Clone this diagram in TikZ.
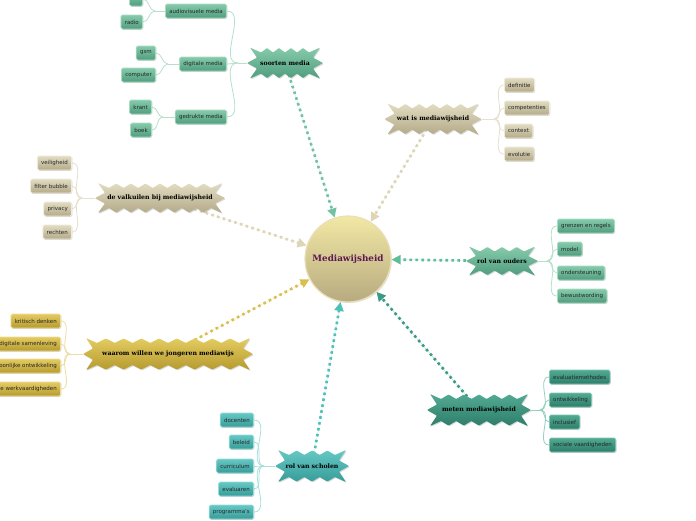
\documentclass[tikz,border=0pt]{standalone}
\usepackage{fontspec}
\setmainfont{DejaVu Sans}
\newfontfamily\burstfont{DejaVu Serif}
\usetikzlibrary{shadows,arrows.meta,backgrounds}
\definecolor{gT}{HTML}{86CBAB}\definecolor{gD}{HTML}{4F9D7E}\definecolor{gB}{HTML}{A9DCC4}
\definecolor{tT}{HTML}{E2DCC2}\definecolor{tD}{HTML}{B3AA88}\definecolor{tB}{HTML}{EFEBDC}
\definecolor{yT}{HTML}{E3CC62}\definecolor{yD}{HTML}{B69A2E}\definecolor{yB}{HTML}{EEDC98}
\definecolor{dT}{HTML}{52AA93}\definecolor{dD}{HTML}{2D7E6A}\definecolor{dB}{HTML}{80C6B3}
\definecolor{sT}{HTML}{66C8C4}\definecolor{sD}{HTML}{379C99}\definecolor{sB}{HTML}{98DEDB}
\definecolor{cT}{HTML}{F2E8A4}\definecolor{cD}{HTML}{B7AA80}\definecolor{cE}{HTML}{E9E0B9}
\definecolor{purp}{HTML}{5C1850}
\definecolor{gDot}{HTML}{72C2A2}\definecolor{tDot}{HTML}{DCD6B6}\definecolor{yDot}{HTML}{D8C050}
\definecolor{dDot}{HTML}{3A9A85}\definecolor{sDot}{HTML}{4EC0B8}\definecolor{oDot}{HTML}{5FBC98}
\definecolor{gL}{HTML}{B5E0CC}\definecolor{tL}{HTML}{E6E1CC}\definecolor{yL}{HTML}{EBDFA6}
\definecolor{dL}{HTML}{94CFC0}\definecolor{sL}{HTML}{A6E0DC}
% burst: name, cx, cy, half width, half height, bumps, fill style, text
\newcommand\mkburst[8]{%
  \begin{scope}[shift={(#2,#3)}]
  \pgfmathsetmacro\ba{#4}\pgfmathsetmacro\bb{#5}\pgfmathsetmacro\bs{(2*#4-28)/#6}
  \path[#7, burstfill] (-\ba,0) -- ({-\ba+10},{-0.35*\bb}) -- ({-\ba+3},{-\bb}) -- ({-\ba+14},{-\bb+5})
    \foreach \k in {1,...,#6} { -- ({-\ba+14+(\k-0.5)*\bs},{-\bb+0.5}) -- ({-\ba+14+\k*\bs},{-\bb+5}) }
    -- ({\ba-3},{-\bb}) -- ({\ba-10},{-0.35*\bb}) -- (\ba,0) -- ({\ba-10},{0.35*\bb}) -- ({\ba-3},{\bb}) -- ({\ba-14},{\bb-5})
    \foreach \k in {1,...,#6} { -- ({\ba-14-(\k-0.5)*\bs},{\bb-0.5}) -- ({\ba-14-\k*\bs},{\bb-5}) }
    -- ({-\ba+3},{\bb}) -- ({-\ba+10},{0.35*\bb}) -- cycle;
  \end{scope}
  \node[bursttext, minimum width=2*#4, minimum height=2*#5] (#1) at (#2,#3) {#8};
}
\begin{document}
\begin{tikzpicture}[x=1pt,y=-1pt,
  leaf/.style={rectangle, rounded corners=1.5pt, minimum height=14pt, inner xsep=3.8pt, inner ysep=0pt,
    font=\fontsize{5.5}{6}\selectfont, text=black!85, line width=0.8pt,
    drop shadow={opacity=0.3,shadow xshift=0.8pt,shadow yshift=-0.8pt}},
  gleaf/.style={leaf, draw=gB, top color=gT, bottom color=gD},
  tleaf/.style={leaf, draw=tB, top color=tT, bottom color=tD},
  yleaf/.style={leaf, draw=yB, top color=yT, bottom color=yD},
  dleaf/.style={leaf, draw=dB, top color=dT, bottom color=dD},
  sleaf/.style={leaf, draw=sB, top color=sT, bottom color=sD},
  burstfill/.style={rounded corners=0.8pt, drop shadow={opacity=0.3,shadow xshift=0.8pt,shadow yshift=-1pt}},
  bursttext/.style={rectangle, inner sep=0pt, font=\burstfont\bfseries\fontsize{6.2}{7}\selectfont, text=black},
  gfill/.style={top color=gT, bottom color=gD},
  tfill/.style={top color=tT, bottom color=tD},
  yfill/.style={top color=yT, bottom color=yD},
  dfill/.style={top color=dT, bottom color=dD},
  sfill/.style={top color=sT, bottom color=sD},
  centre/.style={circle, minimum size=86pt, inner sep=0pt, top color=cT, bottom color=cD, draw=cE,
    line width=1.2pt, font=\burstfont\bfseries\fontsize{8.8}{10}\selectfont, text=purp,
    drop shadow={opacity=0.25,shadow xshift=0.8pt,shadow yshift=-1pt}},
  dotl/.style={line width=2.6pt, dash pattern=on 2.6pt off 3.4pt, -{Triangle[length=9pt,width=9pt]}},
  lline/.style={line width=0.8pt}
]
\useasboundingbox (0,0) rectangle (696,520);
\clip (0,0) rectangle (696,520);

% centre
\node[centre] (c) at (348,259) {Mediawijsheid};

% main branches
\mkburst{sm}{285}{63}{38}{15.5}{4}{gfill}{soorten media}
\mkburst{wm}{433}{119}{48.5}{15.5}{5}{tfill}{wat is mediawijsheid}
\mkburst{vk}{160}{198}{65}{15}{7}{tfill}{de valkuilen bij mediawijsheid}
\mkburst{ro}{502}{261}{36}{14.5}{3}{gfill}{rol van ouders}
\mkburst{wj}{168}{354}{85}{16}{8}{yfill}{waarom willen we jongeren mediawijs}
\mkburst{mm}{479}{410}{52}{16}{5}{dfill}{meten mediawijsheid}
\mkburst{rs}{312}{466}{37}{16}{3}{sfill}{rol van scholen}

% soorten media
\node[gleaf, anchor=east] (av) at (227,11) {audiovisuele media};
\node[gleaf, anchor=east] (dm) at (227,64) {digitale media};
\node[gleaf, anchor=east] (gm) at (227,117) {gedrukte media};
\node[gleaf, anchor=east] (tv) at (143,-1) {tv};
\node[gleaf, anchor=east] (ra) at (143,22) {radio};
\node[gleaf, anchor=east] (gs) at (156,53) {gsm};
\node[gleaf, anchor=east] (co) at (156,75) {computer};
\node[gleaf, anchor=east] (kr) at (152,107) {krant};
\node[gleaf, anchor=east] (bo) at (152,130) {boek};

% wat is mediawijsheid
\node[tleaf, anchor=west] (de) at (504,85) {definitie};
\node[tleaf, anchor=west] (cp) at (504,108) {competenties};
\node[tleaf, anchor=west] (cx) at (504,131) {context};
\node[tleaf, anchor=west] (ev) at (504,154) {evolutie};

% valkuilen
\node[tleaf, anchor=east] (ve) at (72,163) {veiligheid};
\node[tleaf, anchor=east] (fb) at (72,186) {filter bubble};
\node[tleaf, anchor=east] (pr) at (72,209) {privacy};
\node[tleaf, anchor=east] (re) at (72,232) {rechten};

% rol van ouders
\node[gleaf, anchor=west] (gr) at (557,226) {grenzen en regels};
\node[gleaf, anchor=west] (mo) at (557,249) {model};
\node[gleaf, anchor=west] (on) at (557,273) {ondersteuning};
\node[gleaf, anchor=west] (bw) at (557,296) {bewustwording};

% waarom
\node[yleaf, anchor=east] (kd) at (61,321) {kritisch denken};
\node[yleaf, anchor=east] (ds) at (61,344) {digitale samenleving};
\node[yleaf, anchor=east] (po) at (61,366) {persoonlijke ontwikkeling};
\node[yleaf, anchor=east] (wv) at (61,389) {toekomstige werkvaardigheden};

% meten
\node[dleaf, anchor=west] (em) at (549,377) {evaluatiemethodes};
\node[dleaf, anchor=west] (ow) at (549,400) {ontwikkeling};
\node[dleaf, anchor=west] (in) at (549,422) {inclusief};
\node[dleaf, anchor=west] (sv) at (549,445) {sociale vaardigheden};

% scholen
\node[sleaf, anchor=east] (dc) at (254,420) {docenten};
\node[sleaf, anchor=east] (be) at (254,442) {beleid};
\node[sleaf, anchor=east] (cu) at (254,466) {curriculum};
\node[sleaf, anchor=east] (el) at (254,489) {evaluaren};
\node[sleaf, anchor=east] (pg) at (254,512) {programma's};

% junctions
\coordinate (jsm) at (238,63);
\coordinate (jav) at (155,11);
\coordinate (jdm) at (168,64);
\coordinate (jgm) at (163,117);
\coordinate (jwm) at (494,119);
\coordinate (jvk) at (82,198);
\coordinate (jro) at (547,261);
\coordinate (jwj) at (70,354);
\coordinate (jmm) at (540,410);
\coordinate (jrs) at (264,466);

\begin{scope}[on background layer]
\fill[white] (0,0) rectangle (696,520);
% dotted connectors
\draw[dotl, draw=gDot, fill=gDot] (sm.center) -- (c);
\draw[dotl, draw=tDot, fill=tDot] (wm.center) -- (c);
\draw[dotl, draw=tDot, fill=tDot] (vk.center) -- (c);
\draw[dotl, draw=oDot, fill=oDot] (ro.center) -- (c);
\draw[dotl, draw=yDot, fill=yDot] (wj.center) -- (c);
\draw[dotl, draw=dDot, fill=dDot] (mm.center) -- (c);
\draw[dotl, draw=sDot, fill=sDot] (rs.center) -- (c);
% leaf lines
\draw[lline, gL] (sm.west) -- (jsm);
\foreach \n in {av,dm,gm} \draw[lline, gL] (jsm) to[out=180,in=0] (\n.east);
\draw[lline, gL] (av.west) -- (jav);
\foreach \n in {tv,ra} \draw[lline, gL] (jav) to[out=180,in=0] (\n.east);
\draw[lline, gL] (dm.west) -- (jdm);
\foreach \n in {gs,co} \draw[lline, gL] (jdm) to[out=180,in=0] (\n.east);
\draw[lline, gL] (gm.west) -- (jgm);
\foreach \n in {kr,bo} \draw[lline, gL] (jgm) to[out=180,in=0] (\n.east);
\draw[lline, tL] (wm.east) -- (jwm);
\foreach \n in {de,cp,cx,ev} \draw[lline, tL] (jwm) to[out=0,in=180] (\n.west);
\draw[lline, tL] (vk.west) -- (jvk);
\foreach \n in {ve,fb,pr,re} \draw[lline, tL] (jvk) to[out=180,in=0] (\n.east);
\draw[lline, gL] (ro.east) -- (jro);
\foreach \n in {gr,mo,on,bw} \draw[lline, gL] (jro) to[out=0,in=180] (\n.west);
\draw[lline, yL] (wj.west) -- (jwj);
\foreach \n in {kd,ds,po,wv} \draw[lline, yL] (jwj) to[out=180,in=0] (\n.east);
\draw[lline, dL] (mm.east) -- (jmm);
\foreach \n in {em,ow,in,sv} \draw[lline, dL] (jmm) to[out=0,in=180] (\n.west);
\draw[lline, sL] (rs.west) -- (jrs);
\foreach \n in {dc,be,cu,el,pg} \draw[lline, sL] (jrs) to[out=180,in=0] (\n.east);
\end{scope}
\end{tikzpicture}
\end{document}
